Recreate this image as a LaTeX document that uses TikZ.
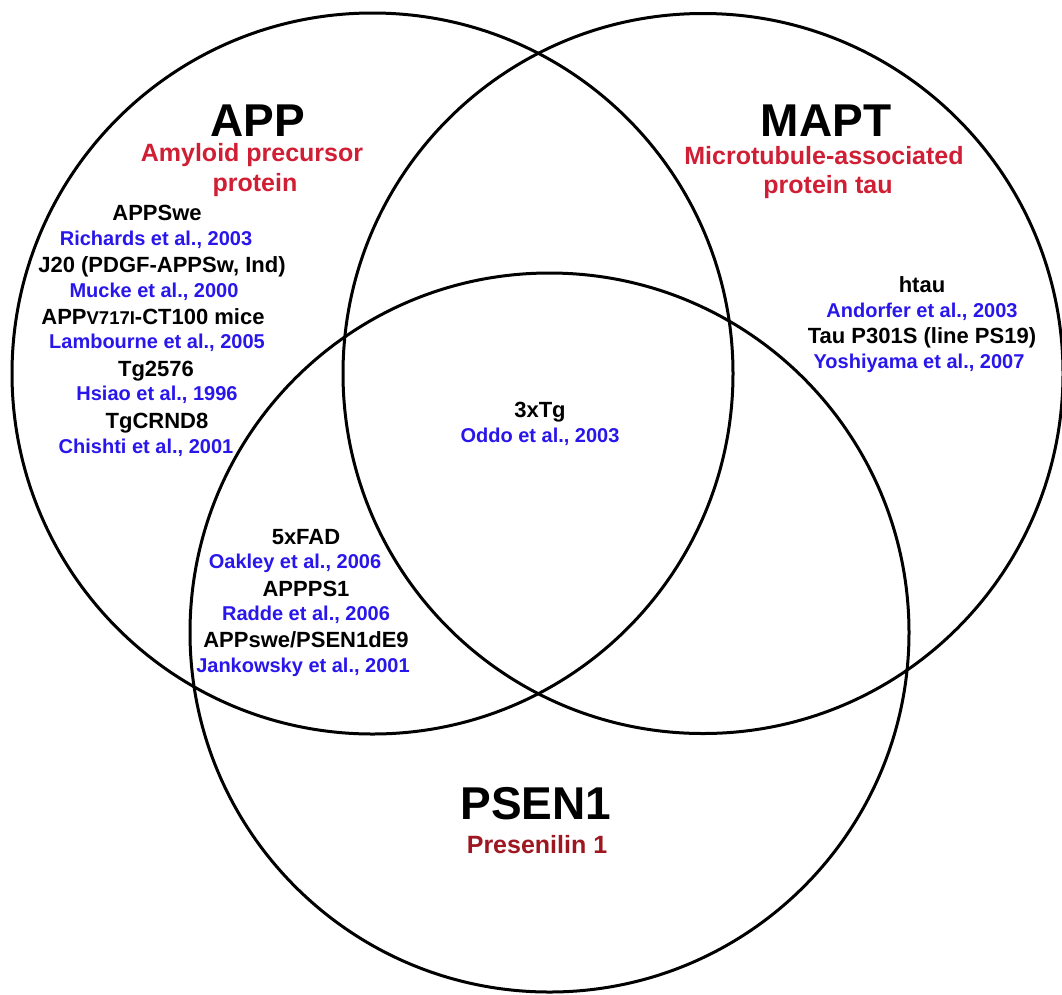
\documentclass[tikz,border=0pt]{standalone}
\usepackage{fontspec}
\setmainfont{Liberation Sans}
\definecolor{refblue}{RGB}{40,22,235}
\definecolor{subred}{RGB}{208,30,52}
\definecolor{darkred}{RGB}{158,22,32}
\begin{document}
\begin{tikzpicture}[x=1pt,y=-1pt,
  ring/.style={draw=black,line width=3pt},
  gene/.style={anchor=base,inner sep=0pt,font=\fontsize{46}{46}\selectfont\bfseries},
  subt/.style={anchor=base,inner sep=0pt,text=subred,font=\fontsize{25}{25}\selectfont\bfseries},
  model/.style={anchor=base,inner sep=0pt,font=\fontsize{22}{22}\selectfont\bfseries},
  cite/.style={anchor=base,inner sep=0pt,text=refblue,font=\fontsize{20}{20}\selectfont\bfseries}]
\useasboundingbox (0,0) rectangle (1062,994);
\fill[white] (0,0) rectangle (1062,994);
\begin{scope}
\clip (0,0) rectangle (1062,994);
\draw[ring] (372.5,373.5) circle[radius=360.5];
\draw[ring] (703,373.5) circle[radius=360];
\draw[ring] (549.5,632.5) circle[radius=359.5];
\end{scope}
% APP
\node[gene] (app) at (258,136) {APP};
\node[subt] (appa) at (252,161) {Amyloid precursor};
\node[subt] (appb) at (255,191) {protein};
\node[model] (m1) at (157,220) {APPSwe};
\node[cite] (c1) at (156,245) {Richards et al., 2003};
\node[model] (m2) at (162,272) {J20 (PDGF-APPSw, Ind)};
\node[cite] (c2) at (154,297) {Mucke et al., 2000};
\node[model] (m3) at (153,324) {APP{\fontsize{18.5}{18.5}\selectfont V717I}-CT100 mice};
\node[cite] (c3) at (157,348) {Lambourne et al., 2005};
\node[model] (m4) at (156,376) {Tg2576};
\node[cite] (c4) at (157,400) {Hsiao et al., 1996};
\node[model] (m5) at (157,428) {TgCRND8};
\node[cite] (c5) at (146,453) {Chishti et al., 2001};
% MAPT
\node[gene] (mapt) at (826,136) {MAPT};
\node[subt] (mapta) at (824,164) {Microtubule-associated};
\node[subt] (maptb) at (828,193) {protein tau};
\node[model] (m6) at (922,292) {htau};
\node[cite] (c6) at (922,317) {Andorfer et al., 2003};
\node[model] (m7) at (922,343) {Tau P301S (line PS19)};
\node[cite] (c7) at (919,368) {Yoshiyama et al., 2007};
% centre
\node[model] (m8) at (540,417) {3xTg};
\node[cite] (c8) at (540,442) {Oddo et al., 2003};
% APP & PSEN1
\node[model] (m9) at (306,544) {5xFAD};
\node[cite] (c9) at (295,568) {Oakley et al., 2006};
\node[model] (m10) at (306,596) {APPPS1};
\node[cite] (c10) at (306,620) {Radde et al., 2006};
\node[model] (m11) at (306,647) {APPswe/PSEN1dE9};
\node[cite] (c11) at (303,672) {Jankowsky et al., 2001};
% PSEN1
\node[gene] (psen) at (536,819) {PSEN1};
\node[subt,text=darkred] (psena) at (537,853) {Presenilin 1};
\end{tikzpicture}
\end{document}
